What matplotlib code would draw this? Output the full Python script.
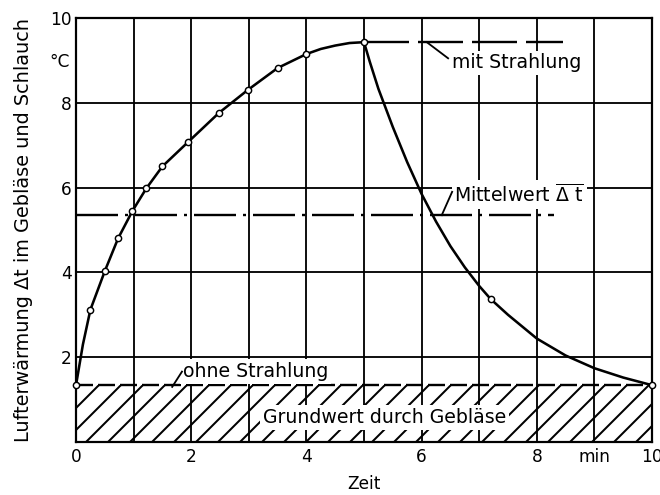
import matplotlib
matplotlib.use('Agg')
import matplotlib.pyplot as plt

# ---- data ----
marker_x = [0, 0.25, 0.5, 0.73, 0.98, 1.22, 1.5, 1.95, 2.48, 2.98, 3.5, 4.0, 5.0, 7.2, 10.0]
marker_y = [1.34, 3.12, 4.03, 4.8, 5.45, 5.98, 6.5, 7.08, 7.76, 8.3, 8.82, 9.15, 9.43, 3.37, 1.34]

curve_x = [0, 0.12, 0.25, 0.5, 0.73, 0.98, 1.22, 1.5, 1.95, 2.48, 2.98, 3.5, 4.0, 4.25, 4.5, 4.75, 5.0,
           5.1, 5.25, 5.5, 5.75, 6.0, 6.25, 6.5, 6.75, 7.0, 7.2, 7.5, 8.0, 8.5, 9.0, 9.5, 10.0]
curve_y = [1.34, 2.3, 3.12, 4.03, 4.8, 5.45, 5.98, 6.5, 7.08, 7.76, 8.3, 8.82, 9.15, 9.27, 9.35, 9.41, 9.43,
           8.97, 8.33, 7.43, 6.6, 5.85, 5.2, 4.62, 4.12, 3.68, 3.37, 3.0, 2.44, 2.04, 1.74, 1.52, 1.34]

base_level = 1.34      # ohne Strahlung / Grundwert
mean_level = 5.35      # Mittelwert
peak_level = 9.43      # mit Strahlung
mean_x_end = 8.3
peak_x_range = [5.0, 8.45]
x_range = [0, 10]

x_ticks = list(range(0, 11))
x_tick_labels = ['0', '', '2', '', '4', '', '6', '', '8', 'min', '10']
y_ticks = [2, 4, 6, 8, 10]
y_tick_labels = ['2', '4', '6', '8', '10']
y_unit_pos = [9]
y_unit_label = ['°C']

# ---- styling ----
plt.rcParams['font.family'] = ['DejaVu Sans']
plt.rcParams['mathtext.fontset'] = 'dejavusans'
plt.rcParams['hatch.linewidth'] = 1.1
plt.rcParams['lines.scale_dashes'] = False
FS = 9.3      # tick labels
FA = 10.3     # annotations / axis title
px = 72 / 132.0  # points per pixel

fig = plt.figure(figsize=(5, 3.75), dpi=132)
ax = fig.add_axes([76 / 660, 53 / 495, 576 / 660, 424 / 495])
ax.set_xlim(0, 10)
ax.set_ylim(0, 10)

# hatched base region
ax.fill_between(x_range, 0, base_level, facecolor='white', edgecolor='black',
                hatch='//', linewidth=0, zorder=1)

# grid
ax.set_xticks(x_ticks)
ax.set_xticklabels(x_tick_labels, fontsize=FS)
ax.set_yticks(y_ticks)
ax.set_yticklabels(y_tick_labels, fontsize=FS)
ax.set_yticks(y_unit_pos, y_unit_label, minor=True, fontsize=FS)
ax.tick_params(axis='both', which='both', length=0)
ax.tick_params(axis='x', pad=6 * px)
ax.tick_params(axis='y', pad=4 * px)
ax.grid(True, which='major', color='black', linewidth=1.0, zorder=2)
ax.set_axisbelow(False)
for s in ax.spines.values():
    s.set_linewidth(1.2)

# reference lines
ax.plot(x_range, [base_level, base_level], color='black', linewidth=1.3,
        dashes=(17 * px, 5 * px), zorder=3)
ax.plot([0, mean_x_end], [mean_level, mean_level], color='black', linewidth=1.3,
        dashes=(42 * px, 7 * px, 3 * px, 7 * px), zorder=3)
ax.plot(peak_x_range, [peak_level, peak_level], color='black', linewidth=1.3,
        dashes=(45 * px, 9 * px), zorder=3)

# main curve and measured points
ax.plot(curve_x, curve_y, color='black', linewidth=1.4, zorder=4)
ax.plot(marker_x, marker_y, linestyle='none', marker='o', markersize=3.4,
        markerfacecolor='white', markeredgecolor='black', markeredgewidth=0.8,
        zorder=5, clip_on=False)

# annotations (text with white backing + separate leader lines)
box = dict(facecolor='white', edgecolor='none', pad=1.5)
ax.text(6.53, 8.94, 'mit Strahlung', fontsize=FA, ha='left', va='center', bbox=box, zorder=6)
ax.plot([6.09, 6.46], [peak_level, 9.05], color='black', lw=1.0, zorder=6)

ax.text(6.57, 5.84, r'Mittelwert $\overline{\mathrm{\Delta\ t}}$', fontsize=FA,
        ha='left', va='center', bbox=box, zorder=6)
ax.plot([6.35, 6.53], [mean_level, 5.9], color='black', lw=1.0, zorder=6)

ax.text(1.85, 1.66, 'ohne Strahlung', fontsize=FA, ha='left', va='center', bbox=box, zorder=6)
ax.plot([1.67, 1.84], [1.30, 1.66], color='black', lw=1.0, zorder=6)

ax.text(5.35, 0.57, 'Grundwert durch Gebläse', fontsize=FA, ha='center', va='center',
        bbox=box, zorder=6)

ax.set_xlabel('Zeit', fontsize=FS)
ax.set_ylabel('Lufterwärmung Δt im Gebläse und Schlauch', fontsize=10.5)
ax.xaxis.set_label_coords(0.5, -0.078)
ax.yaxis.set_label_coords(-0.075, 0.5)

fig.savefig('out.png', dpi=132)
